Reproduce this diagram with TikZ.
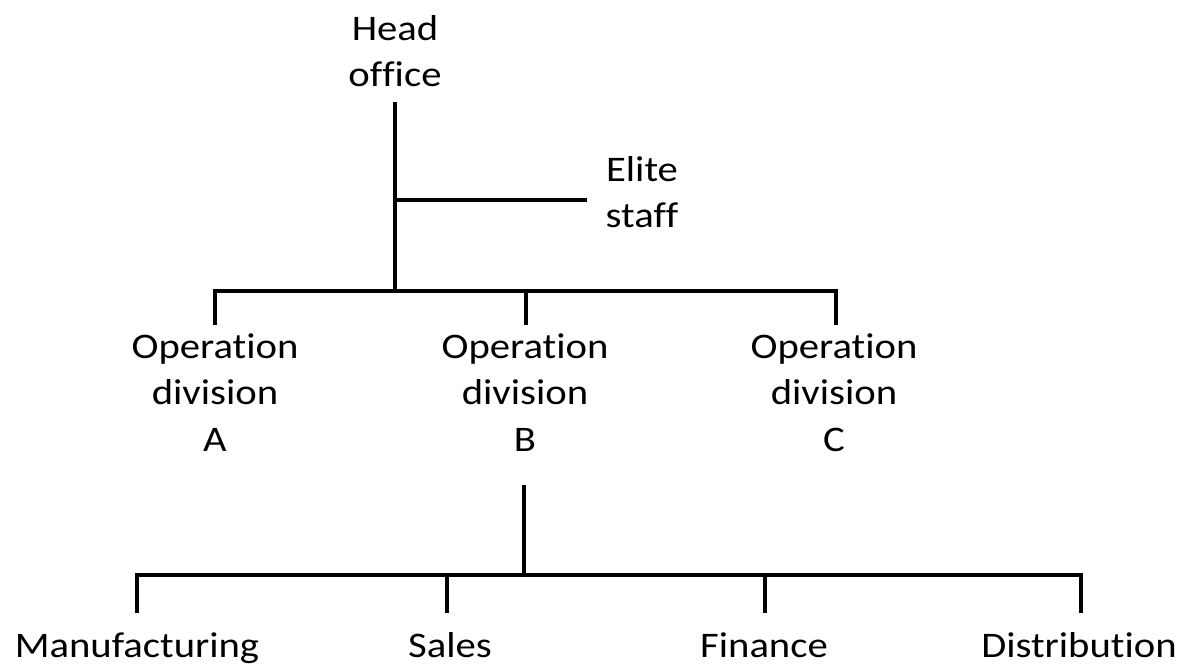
\documentclass[tikz,border=0pt]{standalone}
\usepackage{fontspec}
\setmainfont{Carlito}[RawFeature={-liga;-clig;-dlig;-calt}]
\newcommand{\wx}[1]{\scalebox{1.13}[1]{#1}}
\begin{document}
\begin{tikzpicture}[x=1pt,y=-1pt,
  lbl/.style={font=\fontsize{36}{46.5}\selectfont, align=center, inner sep=0pt, anchor=base},
  conn/.style={line width=4.5pt, line cap=butt}]
\useasboundingbox (0,0) rectangle (1192,668);
% labels (anchor base = baseline of the last line)
\node[lbl] (head) at (395,87) {\wx{Head}\\\wx{of\kern0pt f\kern0pt ice}};
\node[lbl] (elite) at (642,228) {\wx{Elite}\\\wx{staf\kern0pt f}};
\node[lbl] (opa) at (215,451) {\wx{Operat\kern0pt ion}\\\wx{division}\\\wx{A}};
\node[lbl] (opb) at (525,451) {\wx{Operat\kern0pt ion}\\\wx{division}\\\wx{B}};
\node[lbl] (opc) at (834,451) {\wx{Operat\kern0pt ion}\\\wx{division}\\\wx{C}};
\node[lbl] (man) at (137,657) {\wx{Manufacturing}};
\node[lbl] (sal) at (450,657) {\wx{Sales}};
\node[lbl] (fin) at (764,657) {\wx{Finance}};
\node[lbl] (dis) at (1079,657) {\wx{Distribut\kern0pt ion}};
% junction coordinates
\coordinate (h0) at (395,102);
\coordinate (hj) at (395,200);
\coordinate (ej) at (587,200);
\coordinate (hb) at (395,291);
\coordinate (ta) at (215,291);
\coordinate (tc) at (836,291);
\coordinate (tb) at (526,291);
\coordinate (da) at (215,325);
\coordinate (db) at (526,325);
\coordinate (dc) at (836,325);
\coordinate (b0) at (524,485);
\coordinate (bj) at (524,575);
\coordinate (l1) at (137,575);
\coordinate (l4) at (1081,575);
\coordinate (s2) at (447,575);
\coordinate (s3) at (765,575);
\coordinate (e1) at (137,613);
\coordinate (e2) at (447,613);
\coordinate (e3) at (765,613);
\coordinate (e4) at (1081,613);
% connectors
\draw[conn] (h0) -- (hb);
\draw[conn] (hj) -- (ej);
\draw[conn] ([xshift=-2.25pt]ta) -- ([xshift=2.25pt]tc);
\draw[conn] ([yshift=-2.25pt]ta) -- (da);
\draw[conn] (tb) -- (db);
\draw[conn] ([yshift=-2.25pt]tc) -- (dc);
\draw[conn] (b0) -- (bj);
\draw[conn] ([xshift=-2.25pt]l1) -- ([xshift=2.25pt]l4);
\draw[conn] ([yshift=-2.25pt]l1) -- (e1);
\draw[conn] (s2) -- (e2);
\draw[conn] (s3) -- (e3);
\draw[conn] ([yshift=-2.25pt]l4) -- (e4);
\end{tikzpicture}
\end{document}
